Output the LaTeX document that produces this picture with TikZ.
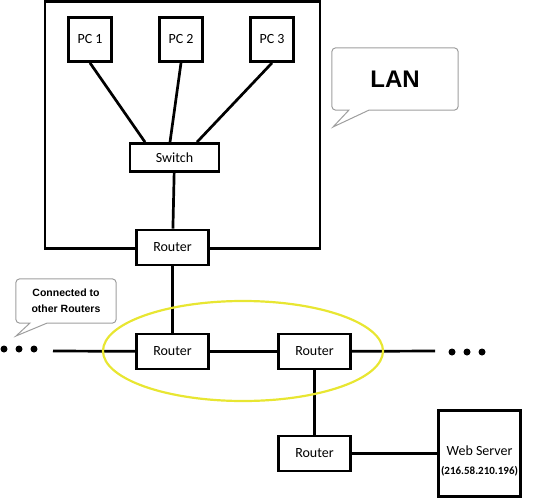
\documentclass[tikz,border=0pt]{standalone}
\usepackage{fontspec}
\setmainfont{Carlito}
\newfontfamily\calloutfont{Liberation Sans}
\usetikzlibrary{positioning}
\definecolor{ringyellow}{RGB}{232,230,50}

\begin{document}
\begin{tikzpicture}[x=1pt, y=-1pt, node distance=91pt,
  block/.style={rectangle, draw, line width=2.8pt, fill=white, minimum width=72pt, minimum height=35pt, inner sep=0pt, font=\fontsize{14}{16}\selectfont},
  pcbox/.style={block, minimum width=43pt, minimum height=44pt},
  link/.style={line width=2.7pt},
  bubble/.style={draw=black!38, line width=1pt},
  dot/.style={circle, fill, inner sep=0pt, minimum size=7pt}]

  \useasboundingbox (0,0) rectangle (540,500);

  % the LAN
  \node[rectangle, draw, line width=2.8pt, minimum width=275pt, minimum height=247pt] (lanbox) at (182.4,124.9) {};
  \node[pcbox] (pc1) at (90,39.5) {PC 1};
  \node[pcbox, right of=pc1] (pc2) {PC 2};
  \node[pcbox, right of=pc2] (pc3) {PC 3};
  \node[block, minimum width=89pt, minimum height=28pt] (switch) at (174.5,157.5) {Switch};
  \node[block] (rlan) at (172.5,247.5) {Router};

  \draw[link] (pc1.south) -- ([xshift=-29.5pt]switch.north);
  \draw[link] (pc2.south) -- ([xshift=-4.5pt]switch.north);
  \draw[link] (pc3.south) -- ([xshift=22.5pt]switch.north);
  \draw[link] (switch) -- (rlan);

  % routers outside
  \node[block, below of=rlan, node distance=104pt] (rleft) {Router};
  \node[block, right of=rleft, node distance=142pt] (rmid) {Router};
  \node[block, below of=rmid, node distance=102pt] (rbot) {Router};
  \node[block, right of=rbot, node distance=165pt, minimum width=82pt, minimum height=86pt,
    label={[align=center, yshift=-7pt, font=\fontsize{14}{19}\selectfont]center:{Web Server\\{\bfseries\fontsize{11}{13}\selectfont (216.58.210.196)}}}] (webserver) {};

  \coordinate (wanleft) at (53,351);
  \coordinate (wanright) at (435,351);
  \foreach \x [count=\i] in {4,19,34} \node[dot] (ldot\i) at (\x,349) {};
  \foreach \x [count=\i] in {452,467,482} \node[dot] (rdot\i) at (\x,352) {};

  \draw[link] (rlan) -- (rleft);
  \draw[link] (wanleft) -- (rleft);
  \draw[link] (rleft) -- (rmid);
  \draw[link] (rmid) -- (wanright);
  \draw[link] (rmid) -- (rbot);
  \draw[link] (rbot) -- (webserver);

  % callouts
  \node[minimum width=126pt, minimum height=62pt, font=\calloutfont\bfseries\fontsize{24}{28}\selectfont] (lan) at (395,79) {LAN};
  \coordinate (lantip) at (333,127);
  \draw[bubble] ([xshift=37pt]lan.south west) [rounded corners=4pt] -- (lan.south east) -- (lan.north east) -- (lan.north west) -- (lan.south west) [sharp corners] -- ([xshift=17pt]lan.south west) -- (lantip) -- cycle;

  \node[minimum width=100pt, minimum height=44pt, align=center, font=\calloutfont\bfseries\fontsize{10.5}{16}\selectfont] (others) at (66,301) {Connected to\\other Routers};
  \coordinate (otherstip) at (16,336);
  \draw[bubble] ([xshift=31pt]others.south west) [rounded corners=4pt] -- (others.south east) -- (others.north east) -- (others.north west) -- (others.south west) [sharp corners] -- ([xshift=14pt]others.south west) -- (otherstip) -- cycle;

  % the ring
  \draw[ringyellow, line width=2.2pt] (243,351) ellipse [x radius=140pt, y radius=50pt];
\end{tikzpicture}
\end{document}
